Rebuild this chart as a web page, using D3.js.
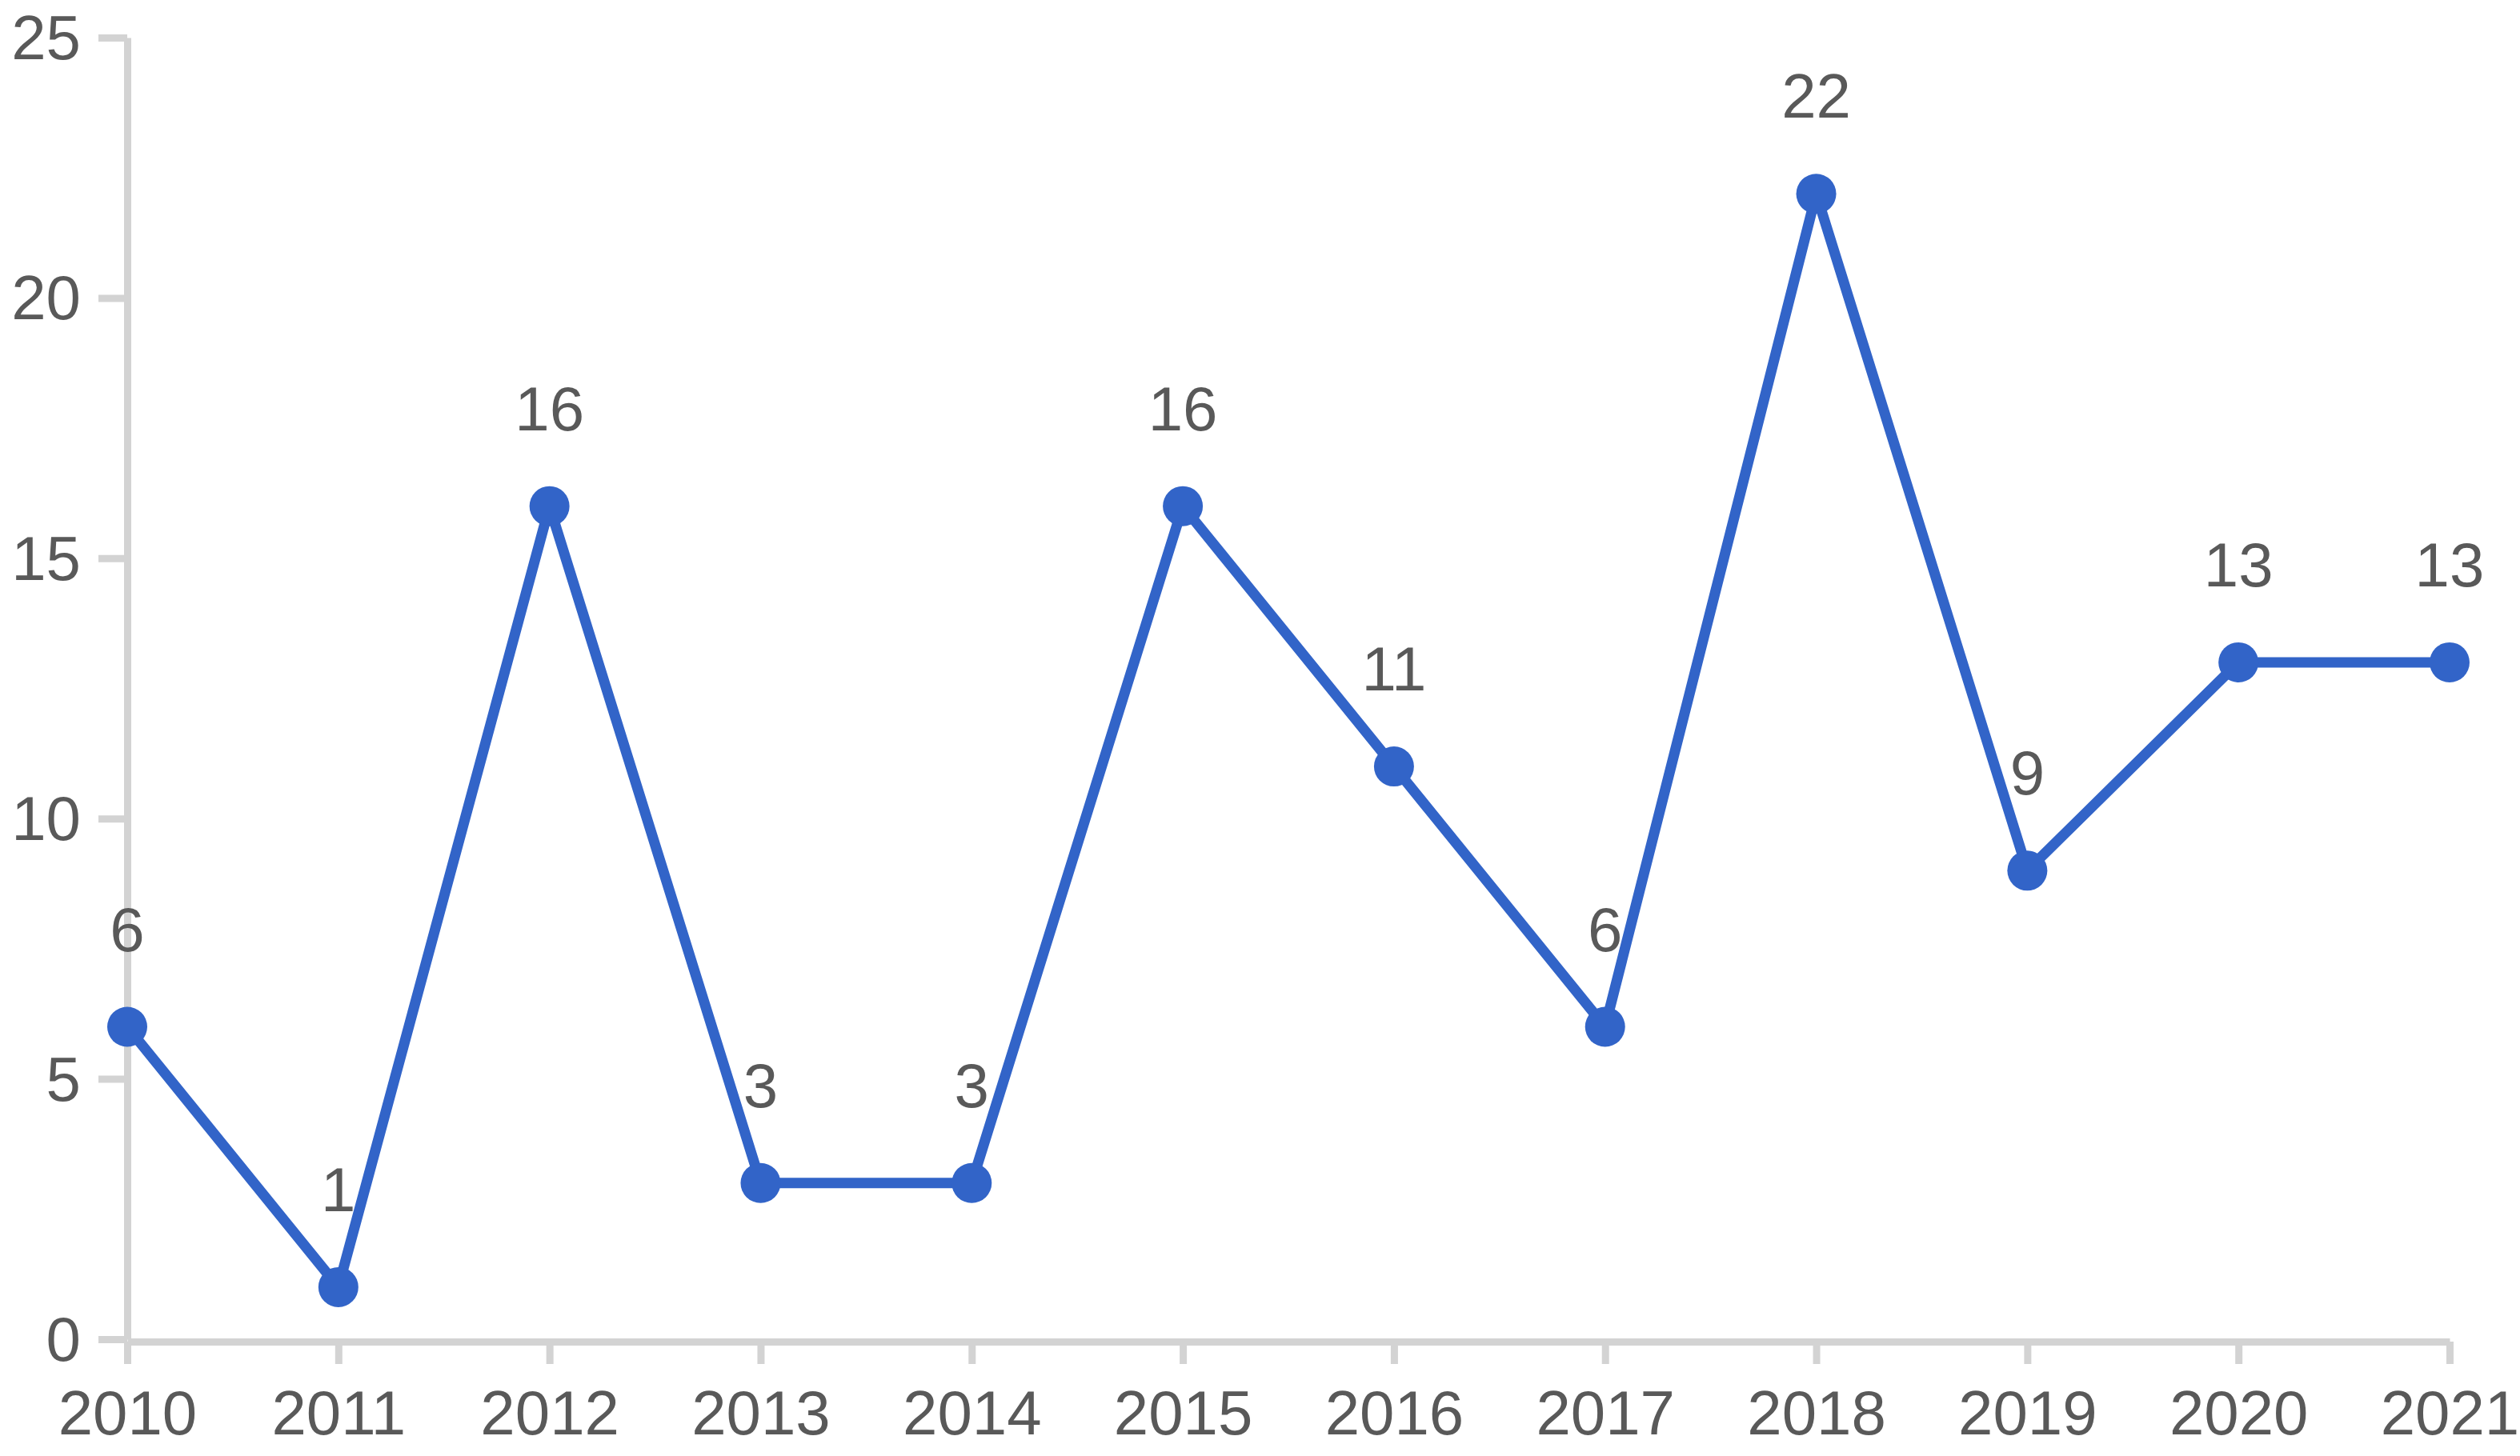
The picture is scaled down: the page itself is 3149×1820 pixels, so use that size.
<!DOCTYPE html>
<html>
<head>
<meta charset="utf-8">
<script src="https://cdn.jsdelivr.net/npm/d3@7"></script>
<style>
  body { margin: 0; background: #fff; }
  .axis text { font-family: "Liberation Sans", Arial, sans-serif; font-size: 78px; fill: #595959; }
  .axis line, .axis path { stroke: #d3d3d3; stroke-width: 9px; }
  .value-label { font-family: "Liberation Sans", Arial, sans-serif; font-size: 78px; fill: #595959; }
</style>
</head>
<body>
<div id="chart"></div>
<script>
// data
const years = ["2010", "2011", "2012", "2013", "2014", "2015", "2016", "2017", "2018", "2019", "2020", "2021"];
const counts = [6, 1, 16, 3, 3, 16, 11, 6, 22, 9, 13, 13];
const yTicks = [0, 5, 10, 15, 20, 25];

const width = 3149, height = 1820;
const margin = { top: 47, right: 88, bottom: 146, left: 159 };

const svg = d3.select("#chart").append("svg")
    .attr("width", width)
    .attr("height", height);

const x = d3.scalePoint()
    .domain(years)
    .range([margin.left, width - margin.right]);

const y = d3.scaleLinear()
    .domain([0, 25])
    .range([height - margin.bottom, margin.top]);

// y axis
svg.append("g")
    .attr("class", "axis")
    .attr("transform", "translate(" + margin.left + ",0)")
    .call(d3.axisLeft(y).tickValues(yTicks).tickSize(36).tickSizeOuter(0).tickPadding(22))
    .selectAll("text").attr("dy", "0.34em");

// x axis
svg.append("g")
    .attr("class", "axis")
    .attr("transform", "translate(0," + (y(0) + 3) + ")")
    .call(d3.axisBottom(x).tickSize(28).tickSizeOuter(0).tickPadding(33));

const line = d3.line()
    .x((d, i) => x(years[i]))
    .y(d => y(d));

svg.append("path")
    .datum(counts)
    .attr("d", line)
    .attr("fill", "none")
    .attr("stroke", "#3264c8")
    .attr("stroke-width", 13)
    .attr("stroke-linejoin", "round");

svg.selectAll("circle.pt")
    .data(counts)
    .enter()
    .append("circle")
    .attr("class", "pt")
    .attr("cx", (d, i) => x(years[i]))
    .attr("cy", d => y(d))
    .attr("r", 25)
    .attr("fill", "#3264c8");

svg.selectAll("text.value-label")
    .data(counts)
    .enter()
    .append("text")
    .attr("class", "value-label")
    .attr("text-anchor", "middle")
    .attr("x", (d, i) => x(years[i]))
    .attr("y", d => y(d) - 95)
    .text(d => d);
</script>
</body>
</html>
